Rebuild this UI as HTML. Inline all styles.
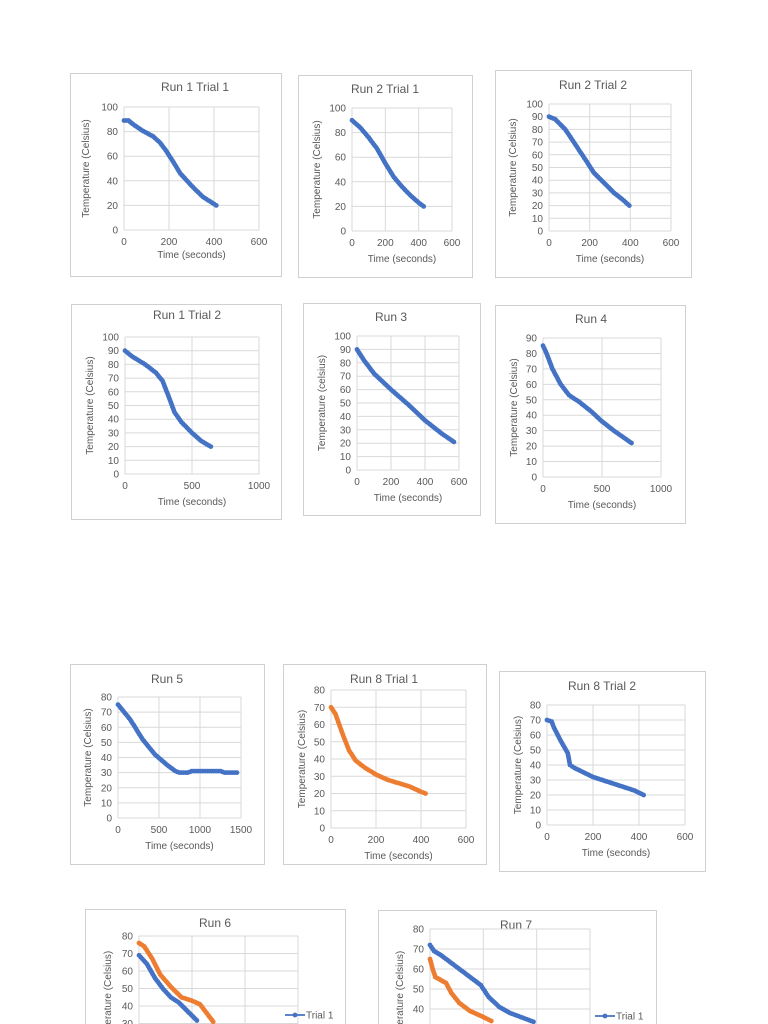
<!DOCTYPE html>
<html><head><meta charset="utf-8"><style>
html,body{margin:0;padding:0;background:#fff;width:768px;height:1024px;overflow:hidden}
svg{display:block;overflow:hidden}
text{font-family:"Liberation Sans",sans-serif;fill:#595959}
</style></head><body>
<svg id="s" width="768" height="1024" viewBox="0 0 768 1024" xmlns="http://www.w3.org/2000/svg"></svg>
<script>
var B='#4472c4',O='#ed7d31';
var C=[
{box:[70,73,211,203],t:'Run 1 Trial 1',tx:195,ty:91,px:[124,259],xr:[0,600,200],py:[230,107],yr:[0,100,20],xl:258,yl:89,s:[[B,[[0,89],[20,89],[40,86],[80,81],[130,76],[160,71],[185,65],[220,55],[250,46],[300,36],[350,27],[410,20]]]]},
{box:[298,75,174,202],t:'Run 2 Trial 1',tx:385,ty:93,px:[352,452],xr:[0,600,200],py:[231,108],yr:[0,100,20],xl:262,yl:320,s:[[B,[[0,90],[50,84],[100,76],[150,67],[200,55],[250,44],[300,36],[350,29],[400,23],[430,20]]]]},
{box:[495,70,196,207],t:'Run 2 Trial 2',tx:593,ty:89,px:[549,671],xr:[0,600,200],py:[231,104],yr:[0,100,10],xl:262,yl:516,s:[[B,[[0,90],[30,88],[80,80],[130,68],[180,56],[220,46],[270,38],[320,30],[360,25],[395,20]]]]},
{box:[71,304,210,215],t:'Run 1 Trial 2',tx:187,ty:319,px:[125,259],xr:[0,1000,500],py:[474,337],yr:[0,100,10],xl:505,yl:93,s:[[B,[[0,90],[50,86],[150,80],[230,74],[280,68],[320,58],[370,45],[420,38],[500,30],[570,24],[640,20]]]]},
{box:[303,303,177,212],t:'Run 3',tx:391,ty:321,px:[357,459],xr:[0,600,200],py:[470,336],yr:[0,100,10],xl:501,yl:325,yt:'Temperature (celsius)',s:[[B,[[0,90],[40,82],[100,72],[200,60],[300,49],[400,37],[500,27],[570,21]]]]},
{box:[495,305,190,218],t:'Run 4',tx:591,ty:323,px:[543,661],xr:[0,1000,500],py:[477,338],yr:[0,90,10],xl:508,yl:517,s:[[B,[[0,85],[30,80],[80,70],[150,60],[220,53],[300,49],[400,43],[500,36],[600,30],[750,22]]]]},
{box:[70,664,194,200],t:'Run 5',tx:167,ty:683,px:[118,241],xr:[0,1500,500],py:[818,697],yr:[0,80,10],xl:849,yl:91,s:[[B,[[0,75],[150,65],[300,52],[450,42],[600,35],[700,31],[750,30],[850,30],[900,31],[1250,31],[1300,30],[1450,30]]]]},
{box:[283,664,203,200],t:'Run 8 Trial 1',tx:384,ty:683,px:[331,466],xr:[0,600,200],py:[828,690],yr:[0,80,10],xl:859,yl:305,s:[[O,[[0,70],[20,66],[50,55],[80,45],[110,39],[150,35],[200,31],[250,28],[300,26],[350,24],[400,21],[420,20]]]]},
{box:[499,671,206,200],t:'Run 8 Trial 2',tx:602,ty:690,px:[547,685],xr:[0,600,200],py:[825,705],yr:[0,80,10],xl:856,yl:521,s:[[B,[[0,70],[20,69],[30,65],[60,56],[90,48],[100,40],[120,38],[160,35],[200,32],[260,29],[320,26],[380,23],[420,20]]]]},
{box:[85,909,260,120],t:'Run 6',tx:215,ty:927,px:[139,298],xr:[0,600,200],py:[1076,936],yr:[0,80,10],xl:2000,yl:111,leg:[285,1015],s:[[B,[[0,69],[30,64],[60,56],[90,50],[120,45],[150,42],[190,36],[230,30],[260,25],[300,20]]],[O,[[0,76],[20,74],[50,67],[80,58],[120,51],[160,45],[200,43],[230,41],[260,35],[290,29],[320,24]]]]},
{box:[378,910,278,120],t:'Run 7',tx:516,ty:929,px:[430,590],xr:[0,600,200],py:[1089,929],yr:[0,80,10],xl:2000,yl:403,leg:[595,1016],s:[[B,[[0,72],[15,69],[40,67],[80,63],[140,57],[190,52],[200,50],[220,46],[260,41],[300,38],[340,36],[380,34],[420,32]]],[O,[[0,65],[10,60],[20,56],[60,53],[80,48],[110,43],[150,39],[200,36],[260,32],[300,28]]]]}
];
var h='';
C.forEach(function(c){
 var b=c.box;
 h+='<rect x="'+(b[0]+.5)+'" y="'+(b[1]+.5)+'" width="'+b[2]+'" height="'+b[3]+'" fill="#fff" stroke="#d0d0d0"/>';
 h+='<text x="'+c.tx+'" y="'+c.ty+'" font-size="12" text-anchor="middle">'+c.t+'</text>';
 var X=function(v){return c.px[0]+(v-c.xr[0])/(c.xr[1]-c.xr[0])*(c.px[1]-c.px[0]);};
 var Y=function(v){return c.py[0]+(v-c.yr[0])/(c.yr[1]-c.yr[0])*(c.py[1]-c.py[0]);};
 for(var v=c.yr[0];v<=c.yr[1];v+=c.yr[2]){var y=Y(v);
  if(y>1024) continue;
  h+='<line x1="'+c.px[0]+'" x2="'+c.px[1]+'" y1="'+y+'" y2="'+y+'" stroke="#d9d9d9"/>';
  h+='<text x="'+(c.px[0]-6)+'" y="'+(y+3.5)+'" font-size="10" text-anchor="end">'+v+'</text>';}
 for(var v=c.xr[0];v<=c.xr[1];v+=c.xr[2]){var x=X(v);
  h+='<line x1="'+x+'" x2="'+x+'" y1="'+Math.min(c.py[0],1024)+'" y2="'+c.py[1]+'" stroke="#d9d9d9"/>';
  if(c.py[0]<1024) h+='<text x="'+x+'" y="'+(c.py[0]+15)+'" font-size="10" text-anchor="middle">'+v+'</text>';}
 if(c.xl<1024) h+='<text x="'+((c.px[0]+c.px[1])/2)+'" y="'+c.xl+'" font-size="10" text-anchor="middle">Time (seconds)</text>';
 var ym=(c.py[0]+c.py[1])/2; if(ym>980) ym=1000;
 h+='<text transform="translate('+c.yl+','+ym+') rotate(-90)" font-size="10" text-anchor="middle">'+(c.yt||'Temperature (Celsius)')+'</text>';
 c.s.forEach(function(s){
  var col=s[0],k=s[1],pts=[];
  for(var i=0;i<k.length-1;i++){var a=k[i],e=k[i+1];var n=Math.max(1,Math.round(Math.hypot(X(e[0])-X(a[0]),Y(e[1])-Y(a[1]))/2.2));
   for(var j=0;j<n;j++){var t=j/n;pts.push([X(a[0]+(e[0]-a[0])*t),Y(a[1]+(e[1]-a[1])*t)]);}}
  var l=k[k.length-1];pts.push([X(l[0]),Y(l[1])]);
  pts=pts.filter(function(p){return p[1]<1022;});
  h+='<polyline fill="none" stroke="'+col+'" stroke-width="1.8" points="'+pts.map(function(p){return p[0].toFixed(1)+','+p[1].toFixed(1)}).join(' ')+'"/>';
  pts.forEach(function(p){h+='<circle cx="'+p[0].toFixed(1)+'" cy="'+p[1].toFixed(1)+'" r="2.4" fill="'+col+'"/>';});
 });
 if(c.leg){var lx=c.leg[0],ly=c.leg[1];
  h+='<line x1="'+lx+'" x2="'+(lx+20)+'" y1="'+ly+'" y2="'+ly+'" stroke="'+B+'" stroke-width="1.8"/><circle cx="'+(lx+10)+'" cy="'+ly+'" r="2.4" fill="'+B+'"/>';
  h+='<text x="'+(lx+21)+'" y="'+(ly+3.5)+'" font-size="10">Trial 1</text>';}
});
document.getElementById('s').innerHTML=h;
</script>
</body></html>
